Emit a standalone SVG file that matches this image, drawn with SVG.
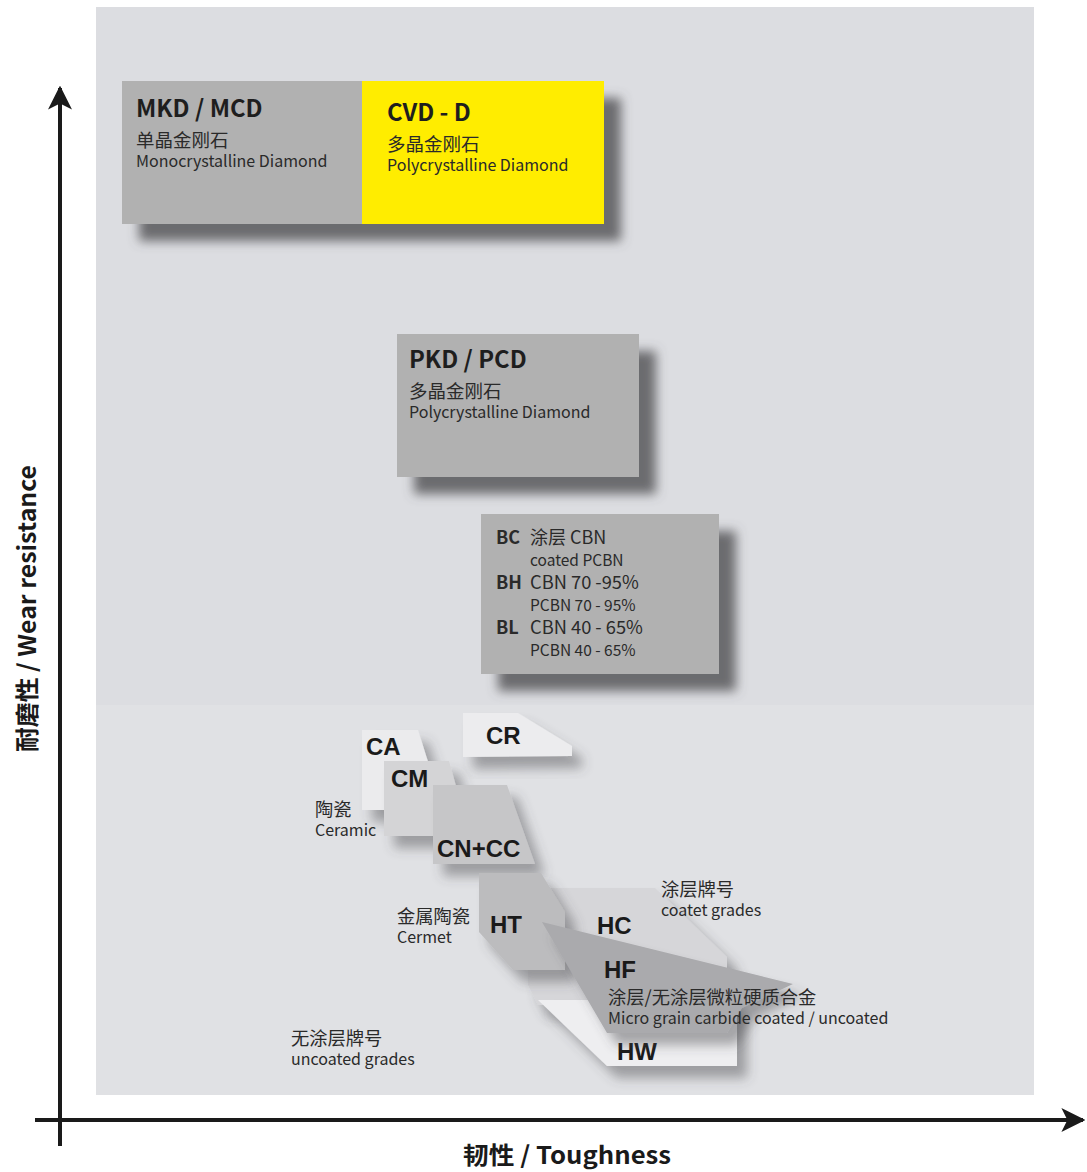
<svg xmlns="http://www.w3.org/2000/svg" width="1087" height="1172" viewBox="0 0 1087 1172">
<defs>
<filter id="shBig" x="-20%" y="-20%" width="150%" height="170%">
<feGaussianBlur in="SourceAlpha" stdDeviation="5.5"/>
<feOffset dx="17" dy="17" result="b"/>
<feFlood flood-color="#58585b" flood-opacity="0.85"/>
<feComposite in2="b" operator="in"/>
<feMerge><feMergeNode/><feMergeNode in="SourceGraphic"/></feMerge>
</filter>
<filter id="shSm" x="-30%" y="-30%" width="170%" height="180%">
<feGaussianBlur in="SourceAlpha" stdDeviation="6"/>
<feOffset dx="10" dy="12" result="b"/>
<feFlood flood-color="#4a4a4e" flood-opacity="0.45"/>
<feComposite in2="b" operator="in"/>
<feMerge><feMergeNode/><feMergeNode in="SourceGraphic"/></feMerge>
</filter>
<marker id="arr" viewBox="0 0 10 10" refX="9" refY="5" markerWidth="6" markerHeight="6" orient="auto" markerUnits="strokeWidth">
<path d="M0,0 L10,5 L0,10 L2.5,5 Z" fill="#1a1a1a"/>
</marker>
</defs>
<style>
.t{font-family:"Noto Sans CJK SC","Noto Sans",sans-serif;fill:#2a2a2a}
.hd{font-family:"Noto Sans CJK SC","Noto Sans",sans-serif;font-weight:bold;font-size:23.8px;fill:#1e1e1e}
.cn{font-size:18.5px}
.en{font-size:16px}
.lc{font-size:18.3px}
.le{font-size:16px}
.g{font-family:"Liberation Sans",Arial,sans-serif;font-weight:bold;font-size:24px;fill:#1a1a1a}
.ax{font-family:"Noto Sans CJK SC","Noto Sans",sans-serif;font-weight:bold;font-size:24px;fill:#1a1a1a}
</style>
<rect x="0" y="0" width="1087" height="1172" fill="#ffffff"/>
<g id="panel">
<rect x="96" y="7" width="938" height="1088" fill="#dcdde1"/>
<rect x="96" y="705" width="938" height="390" fill="#e0e1e4"/>
</g>

<g id="node-mkd" filter="url(#shBig)">
<rect x="122" y="81" width="482" height="143" fill="#b1b1b1"/>
<rect x="362" y="81" width="242" height="143" fill="#ffed00"/>
</g>
<g id="node-mkd-text">
<text class="hd" x="136" y="117">MKD / MCD</text>
<text class="t cn" x="136" y="147">单晶金刚石</text>
<text class="t en" x="136" y="167">Monocrystalline Diamond</text>
</g>
<g id="node-cvd">
<text class="hd" x="387" y="121">CVD - D</text>
<text class="t cn" x="387" y="151">多晶金刚石</text>
<text class="t en" x="387" y="171">Polycrystalline Diamond</text>
</g>

<g id="node-pkd">
<rect x="397" y="334" width="242" height="143" fill="#b1b1b1" filter="url(#shBig)"/>
<text class="hd" x="409" y="368">PKD / PCD</text>
<text class="t cn" x="409" y="398">多晶金刚石</text>
<text class="t en" x="409" y="418">Polycrystalline Diamond</text>
</g>

<g id="node-cbn">
<rect x="481" y="514" width="238" height="160" fill="#b1b1b1" filter="url(#shBig)"/>
<text class="t" x="496" y="544" font-size="18" font-weight="bold" fill="#1e1e1e">BC</text>
<text class="t" x="530" y="544" font-size="18">涂层 CBN</text>
<text class="t" x="530" y="566" font-size="15.5">coated PCBN</text>
<text class="t" x="496" y="589" font-size="18" font-weight="bold" fill="#1e1e1e">BH</text>
<text class="t" x="530" y="589" font-size="18.3">CBN 70 -95%</text>
<text class="t" x="530" y="611" font-size="15.5">PCBN 70 - 95%</text>
<text class="t" x="496" y="634" font-size="18" font-weight="bold" fill="#1e1e1e">BL</text>
<text class="t" x="530" y="634" font-size="18.3">CBN 40 - 65%</text>
<text class="t" x="530" y="656" font-size="15.5">PCBN 40 - 65%</text>
</g>

<g id="node-cr">
<polygon points="463,713 518,713 572,746 572,756 463,757" fill="#ececee" filter="url(#shSm)"/>
<text class="g" x="486" y="744">CR</text>
</g>
<g id="node-ca">
<polygon points="362,730 418,730 430,768 430,810 362,810" fill="#ebebed" filter="url(#shSm)"/>
<text class="g" x="366" y="755">CA</text>
</g>
<g id="node-cm">
<polygon points="384,761 449,761 456,786 456,836 384,836" fill="#d4d4d6" filter="url(#shSm)"/>
<text class="g" x="391" y="787">CM</text>
</g>
<g id="node-cncc">
<polygon points="433,785 507,785 535,864 433,864" fill="#c6c6c8" filter="url(#shSm)"/>
<text class="g" x="437" y="857">CN+CC</text>
</g>
<g id="label-ceramic">
<text class="t lc" x="315" y="816">陶瓷</text>
<text class="t le" x="315" y="836">Ceramic</text>
</g>

<g id="node-hc">
<polygon points="547,888 655,888 727,957 727,1005 538,1005 528,985 528,950 540,900" fill="#d6d6d9" filter="url(#shSm)"/>
<text class="g" x="597" y="934">HC</text>
</g>
<g id="node-hw">
<polygon points="538,1000 737,1000 737,1066 607,1066" fill="#eeeef0" filter="url(#shSm)"/>
<text class="g" x="617" y="1060">HW</text>
</g>
<g id="node-ht">
<polygon points="479,873 541,873 565,912 565,970 513,970 479,932" fill="#bcbcbe" filter="url(#shSm)"/>
<text class="g" x="490" y="933">HT</text>
</g>
<g id="node-hf">
<polygon points="542,922 793,984 742,1008 727,1033 607,1033" fill="#aaaaad" filter="url(#shSm)"/>
<text class="g" x="604" y="978">HF</text>
</g>

<g id="label-coated">
<text class="t lc" x="661" y="896">涂层牌号</text>
<text class="t le" x="661" y="916">coatet grades</text>
</g>
<g id="label-micro">
<text class="t lc" x="608" y="1004">涂层/无涂层微粒硬质合金</text>
<text class="t le" x="608" y="1024">Micro grain carbide coated / uncoated</text>
</g>
<g id="label-cermet">
<text class="t lc" x="397" y="923">金属陶瓷</text>
<text class="t le" x="397" y="943">Cermet</text>
</g>
<g id="label-uncoated">
<text class="t lc" x="291" y="1045">无涂层牌号</text>
<text class="t le" x="291" y="1065">uncoated grades</text>
</g>

<g id="connectors" stroke="#1a1a1a" stroke-width="4" fill="none">
<line x1="60" y1="1146" x2="60" y2="88" marker-end="url(#arr)"/>
<line x1="35" y1="1120" x2="1083" y2="1120" marker-end="url(#arr)"/>
</g>

<g id="axis-labels">
<text class="ax" x="463" y="1164" textLength="208" lengthAdjust="spacingAndGlyphs">韧性 / Toughness</text>
<text class="ax" transform="translate(36,752) rotate(-90)" textLength="287" lengthAdjust="spacingAndGlyphs">耐磨性 / Wear resistance</text>
</g>
</svg>
